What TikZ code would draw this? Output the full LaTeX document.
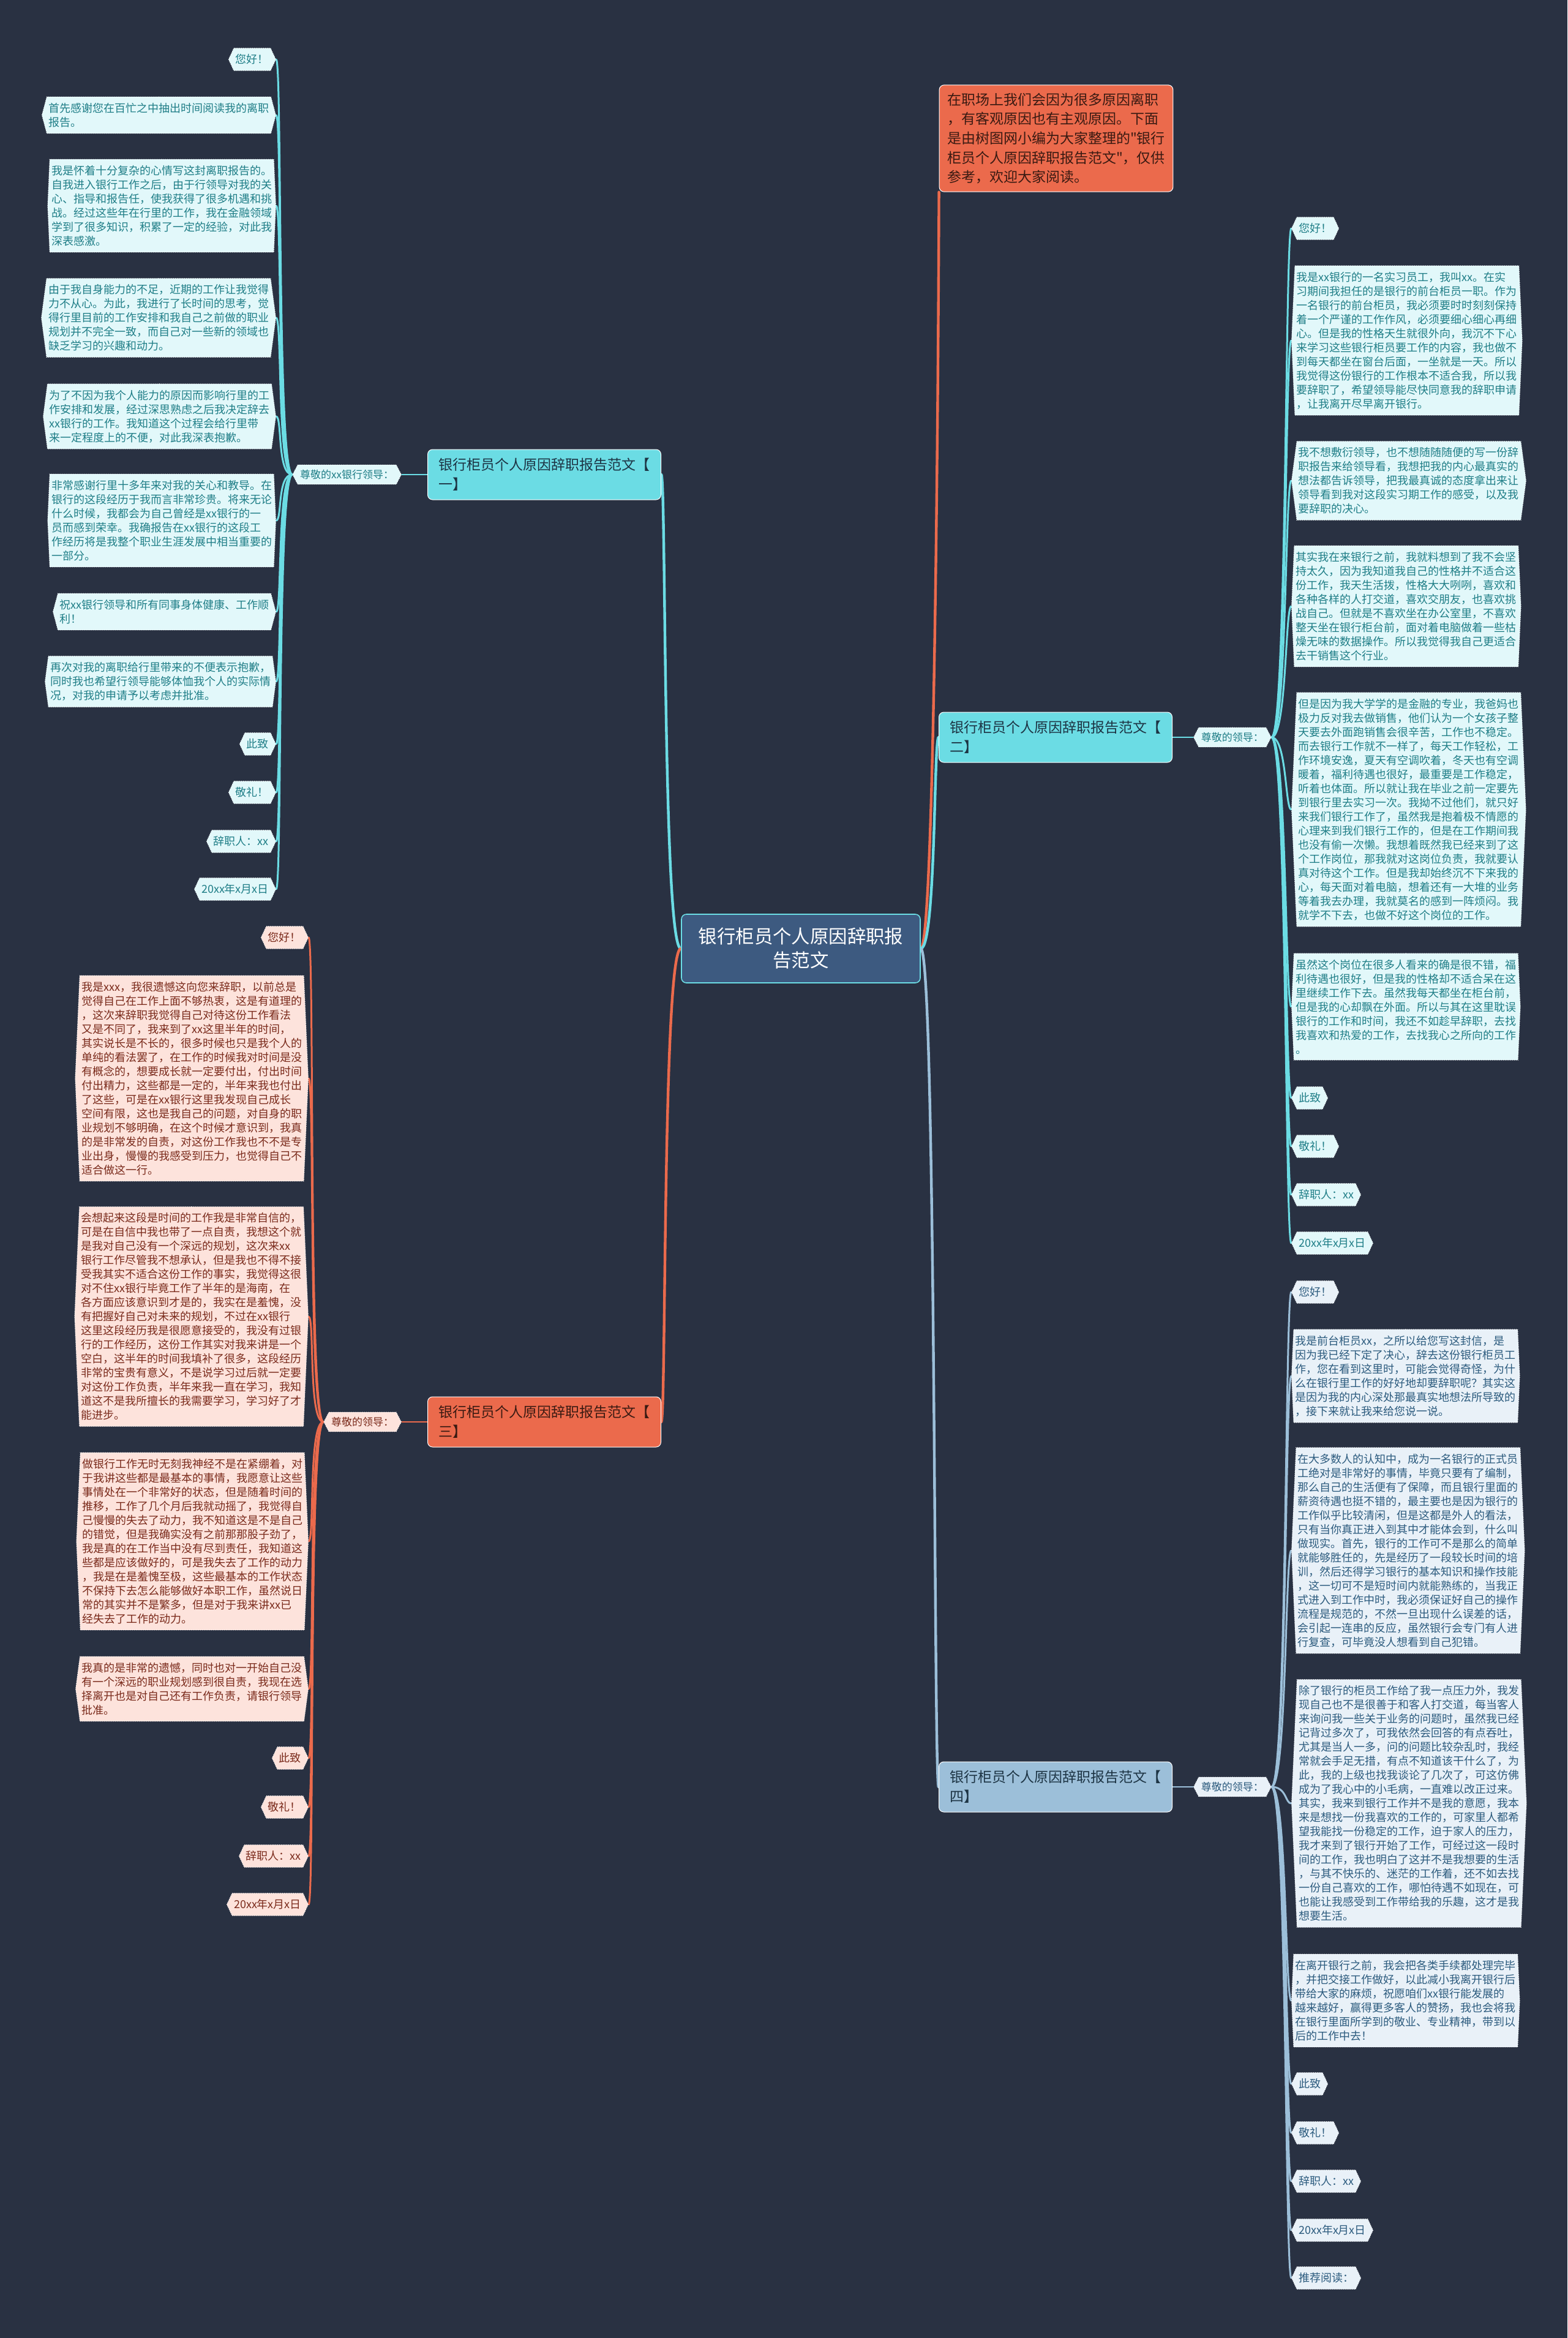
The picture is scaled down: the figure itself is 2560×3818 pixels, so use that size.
\documentclass[tikz,border=0pt]{standalone}
\usepackage{fontspec}
\setmainfont{Noto Sans CJK SC}[Ligatures=TeXOff]
\usetikzlibrary{positioning, shapes.symbols, backgrounds}

\definecolor{bgnavy}{HTML}{293142}
\definecolor{cyanmain}{HTML}{6BDCE4}
\definecolor{cyanfill}{HTML}{E2F8FA}
\definecolor{cyantext}{HTML}{1F7E87}
\definecolor{redmain}{HTML}{EB6A4C}
\definecolor{redfill}{HTML}{FDE3DC}
\definecolor{redtext}{HTML}{7A2A1B}
\definecolor{bluemain}{HTML}{9CBFD9}
\definecolor{bluefill}{HTML}{E9F1F8}
\definecolor{bluetext}{HTML}{2C5B7E}
\definecolor{rootblue}{HTML}{3D5A80}
\definecolor{darkbrown}{HTML}{3A1A12}
\definecolor{darknavy}{HTML}{1D3444}

\newcommand{\leaffont}{\fontsize{9pt}{11.5pt}\selectfont}
\newcommand{\hubfont}{\fontsize{8.5pt}{10pt}\selectfont}
\newcommand{\branchfont}{\fontsize{11.5pt}{15.8pt}\selectfont}
\newcommand{\rootfont}{\fontsize{15.2pt}{19.5pt}\selectfont}

\begin{document}
\begin{tikzpicture}[
    x=0.5pt, y=-0.5pt,
    leaf/.style={signal, signal to=east and west, signal pointer angle=175, draw=white, densely dotted, line width=0.5pt, font=\leaffont, align=left, inner xsep=1.5pt, inner ysep=5pt},
    tagnode/.style={signal pointer angle=130, inner xsep=1.5pt},
    twoline/.style={signal pointer angle=150},
    midline/.style={signal pointer angle=165},
    cleaf/.style={leaf, fill=cyanfill, text=cyantext},
    rleaf/.style={leaf, fill=redfill, text=redtext},
    bleaf/.style={leaf, fill=bluefill, text=bluetext},
    hub/.style={signal, signal to=east and west, signal pointer angle=125, draw=white, densely dotted, line width=0.5pt, font=\hubfont, inner xsep=2pt, inner ysep=4pt},
    branchbox/.style={rectangle, rounded corners=4pt, draw=white, line width=0.5pt, font=\branchfont, align=left, minimum width=190.5pt, minimum height=41pt, inner xsep=5pt},
    rootbox/.style={rectangle, rounded corners=4pt, draw=cyanmain, line width=0.8pt, fill=rootblue, text=white, font=\rootfont, align=center, minimum width=195pt, minimum height=56pt},
    introbox/.style={rectangle, rounded corners=4pt, draw=white, line width=0.5pt, fill=redmain, text=darkbrown, font=\branchfont, align=left, inner sep=6.5pt},
    link/.style={line cap=round},
    clink/.style={link, draw=cyanmain, line width=1.5pt},
    rlink/.style={link, draw=redmain, line width=1.5pt},
    blink/.style={link, draw=bluemain, line width=1.5pt},
    trunk/.style={link, line width=2.2pt}
]
\useasboundingbox (0,0) rectangle (2560,3818);
\begin{pgfonlayer}{background}
\fill[bgnavy] (0,0) rectangle (2560,3818);
\end{pgfonlayer}

\node[rootbox] (root) at (1308,1549) {银行柜员个人原因辞职报\\告范文};
\node[introbox] (intro) at (1725,226) {在职场上我们会因为很多原因离职\\，有客观原因也有主观原因。下面\\是由树图网小编为大家整理的"银行\\柜员个人原因辞职报告范文"，仅供\\参考，欢迎大家阅读。};

\node[branchbox, fill=cyanmain, text=darknavy] (b1) at (889,775) {银行柜员个人原因辞职报告范文【\\一】};
\node[branchbox, fill=cyanmain, text=darknavy] (b2) at (1724,1204) {银行柜员个人原因辞职报告范文【\\二】};
\node[branchbox, fill=redmain, text=darkbrown] (b3) at (889,2322) {银行柜员个人原因辞职报告范文【\\三】};
\node[branchbox, fill=bluemain, text=darknavy] (b4) at (1724,2918) {银行柜员个人原因辞职报告范文【\\四】};

\node[hub, fill=cyanfill, text=cyantext, left=21pt of b1] (h1) {尊敬的xx银行领导：};
\node[hub, fill=cyanfill, text=cyantext, right=17pt of b2] (h2) {尊敬的领导：};
\node[hub, fill=redfill, text=redtext, left=21pt of b3] (h3) {尊敬的领导：};
\node[hub, fill=bluefill, text=bluetext, right=17pt of b4] (h4) {尊敬的领导：};

\node[cleaf, tagnode, anchor=east] (one1) at (451,97) {您好！};
\node[cleaf, twoline, anchor=east] (one2) at (451,188) {首先感谢您在百忙之中抽出时间阅读我的离职\\报告。};
\node[cleaf, anchor=east] (one3) at (451,336) {我是怀着十分复杂的心情写这封离职报告的。\\自我进入银行工作之后，由于行领导对我的关\\心、指导和报告任，使我获得了很多机遇和挑\\战。经过这些年在行里的工作，我在金融领域\\学到了很多知识，积累了一定的经验，对此我\\深表感激。};
\node[cleaf, midline, anchor=east] (one4) at (451,519) {由于我自身能力的不足，近期的工作让我觉得\\力不从心。为此，我进行了长时间的思考，觉\\得行里目前的工作安排和我自己之前做的职业\\规划并不完全一致，而自己对一些新的领域也\\缺乏学习的兴趣和动力。};
\node[cleaf, midline, anchor=east] (one5) at (451,680) {为了不因为我个人能力的原因而影响行里的工\\作安排和发展，经过深思熟虑之后我决定辞去\\xx银行的工作。我知道这个过程会给行里带\\来一定程度上的不便，对此我深表抱歉。};
\node[cleaf, anchor=east] (one6) at (451,850) {非常感谢行里十多年来对我的关心和教导。在\\银行的这段经历于我而言非常珍贵。将来无论\\什么时候，我都会为自己曾经是xx银行的一\\员而感到荣幸。我确报告在xx银行的这段工\\作经历将是我整个职业生涯发展中相当重要的\\一部分。};
\node[cleaf, twoline, anchor=east] (one7) at (451,999) {祝xx银行领导和所有同事身体健康、工作顺\\利！};
\node[cleaf, midline, anchor=east] (one8) at (451,1113) {再次对我的离职给行里带来的不便表示抱歉，\\同时我也希望行领导能够体恤我个人的实际情\\况，对我的申请予以考虑并批准。};
\node[cleaf, tagnode, anchor=east] (one9) at (451,1215) {此致};
\node[cleaf, tagnode, anchor=east] (one10) at (451,1294) {敬礼！};
\node[cleaf, tagnode, anchor=east] (one11) at (451,1374) {辞职人：xx};
\node[cleaf, tagnode, anchor=east] (one12) at (451,1452) {20xx年x月x日};

\node[rleaf, tagnode, anchor=east] (three1) at (504,1531) {您好！};
\node[rleaf, anchor=east] (three2) at (504,1761) {我是xxx，我很遗憾这向您来辞职，以前总是\\觉得自己在工作上面不够热衷，这是有道理的\\，这次来辞职我觉得自己对待这份工作看法\\又是不同了，我来到了xx这里半年的时间，\\其实说长是不长的，很多时候也只是我个人的\\单纯的看法罢了，在工作的时候我对时间是没\\有概念的，想要成长就一定要付出，付出时间\\付出精力，这些都是一定的，半年来我也付出\\了这些，可是在xx银行这里我发现自己成长\\空间有限，这也是我自己的问题，对自身的职\\业规划不够明确，在这个时候才意识到，我真\\的是非常发的自责，对这份工作我也不不是专\\业出身，慢慢的我感受到压力，也觉得自己不\\适合做这一行。};
\node[rleaf, anchor=east] (three3) at (504,2150) {会想起来这段是时间的工作我是非常自信的，\\可是在自信中我也带了一点自责，我想这个就\\是我对自己没有一个深远的规划，这次来xx\\银行工作尽管我不想承认，但是我也不得不接\\受我其实不适合这份工作的事实，我觉得这很\\对不住xx银行毕竟工作了半年的是海南，在\\各方面应该意识到才是的，我实在是羞愧，没\\有把握好自己对未来的规划，不过在xx银行\\这里这段经历我是很愿意接受的，我没有过银\\行的工作经历，这份工作其实对我来讲是一个\\空白，这半年的时间我填补了很多，这段经历\\非常的宝贵有意义，不是说学习过后就一定要\\对这份工作负责，半年来我一直在学习，我知\\道这不是我所擅长的我需要学习，学习好了才\\能进步。};
\node[rleaf, anchor=east] (three4) at (504,2517) {做银行工作无时无刻我神经不是在紧绷着，对\\于我讲这些都是最基本的事情，我愿意让这些\\事情处在一个非常好的状态，但是随着时间的\\推移，工作了几个月后我就动摇了，我觉得自\\己慢慢的失去了动力，我不知道这是不是自己\\的错觉，但是我确实没有之前那那股子劲了，\\我是真的在工作当中没有尽到责任，我知道这\\些都是应该做好的，可是我失去了工作的动力\\，我是在是羞愧至极，这些最基本的工作状态\\不保持下去怎么能够做好本职工作，虽然说日\\常的其实并不是繁多，但是对于我来讲xx已\\经失去了工作的动力。};
\node[rleaf, midline, anchor=east] (three5) at (504,2758) {我真的是非常的遗憾，同时也对一开始自己没\\有一个深远的职业规划感到很自责，我现在选\\择离开也是对自己还有工作负责，请银行领导\\批准。};
\node[rleaf, tagnode, anchor=east] (three6) at (504,2871) {此致};
\node[rleaf, tagnode, anchor=east] (three7) at (504,2951) {敬礼！};
\node[rleaf, tagnode, anchor=east] (three8) at (504,3031) {辞职人：xx};
\node[rleaf, tagnode, anchor=east] (three9) at (504,3110) {20xx年x月x日};

\node[cleaf, tagnode, anchor=west] (two1) at (2109,373) {您好！};
\node[cleaf, anchor=west] (two2) at (2109,556) {我是xx银行的一名实习员工，我叫xx。在实\\习期间我担任的是银行的前台柜员一职。作为\\一名银行的前台柜员，我必须要时时刻刻保持\\着一个严谨的工作作风，必须要细心细心再细\\心。但是我的性格天生就很外向，我沉不下心\\来学习这些银行柜员要工作的内容，我也做不\\到每天都坐在窗台后面，一坐就是一天。所以\\我觉得这份银行的工作根本不适合我，所以我\\要辞职了，希望领导能尽快同意我的辞职申请\\，让我离开尽早离开银行。};
\node[cleaf, midline, anchor=west] (two3) at (2109,785) {我不想敷衍领导，也不想随随随便的写一份辞\\职报告来给领导看，我想把我的内心最真实的\\想法都告诉领导，把我最真诚的态度拿出来让\\领导看到我对这段实习期工作的感受，以及我\\要辞职的决心。};
\node[cleaf, anchor=west] (two4) at (2109,990) {其实我在来银行之前，我就料想到了我不会坚\\持太久，因为我知道我自己的性格并不适合这\\份工作，我天生活拨，性格大大咧咧，喜欢和\\各种各样的人打交道，喜欢交朋友，也喜欢挑\\战自己。但就是不喜欢坐在办公室里，不喜欢\\整天坐在银行柜台前，面对着电脑做着一些枯\\燥无味的数据操作。所以我觉得我自己更适合\\去干销售这个行业。};
\node[cleaf, anchor=west] (two5) at (2109,1322) {但是因为我大学学的是金融的专业，我爸妈也\\极力反对我去做销售，他们认为一个女孩子整\\天要去外面跑销售会很辛苦，工作也不稳定。\\而去银行工作就不一样了，每天工作轻松，工\\作环境安逸，夏天有空调吹着，冬天也有空调\\暖着，福利待遇也很好，最重要是工作稳定，\\听着也体面。所以就让我在毕业之前一定要先\\到银行里去实习一次。我拗不过他们，就只好\\来我们银行工作了，虽然我是抱着极不情愿的\\心理来到我们银行工作的，但是在工作期间我\\也没有偷一次懒。我想着既然我已经来到了这\\个工作岗位，那我就对这岗位负责，我就要认\\真对待这个工作。但是我却始终沉不下来我的\\心，每天面对着电脑，想着还有一大堆的业务\\等着我去办理，我就莫名的感到一阵烦闷。我\\就学不下去，也做不好这个岗位的工作。};
\node[cleaf, anchor=west] (two6) at (2109,1644) {虽然这个岗位在很多人看来的确是很不错，福\\利待遇也很好，但是我的性格却不适合呆在这\\里继续工作下去。虽然我每天都坐在柜台前，\\但是我的心却飘在外面。所以与其在这里耽误\\银行的工作和时间，我还不如趁早辞职，去找\\我喜欢和热爱的工作，去找我心之所向的工作\\。};
\node[cleaf, tagnode, anchor=west] (two7) at (2109,1793) {此致};
\node[cleaf, tagnode, anchor=west] (two8) at (2109,1872) {敬礼！};
\node[cleaf, tagnode, anchor=west] (two9) at (2109,1951) {辞职人：xx};
\node[cleaf, tagnode, anchor=west] (two10) at (2109,2030) {20xx年x月x日};

\node[bleaf, tagnode, anchor=west] (four1) at (2109,2110) {您好！};
\node[bleaf, anchor=west] (four2) at (2109,2247) {我是前台柜员xx，之所以给您写这封信，是\\因为我已经下定了决心，辞去这份银行柜员工\\作，您在看到这里时，可能会觉得奇怪，为什\\么在银行里工作的好好地却要辞职呢？其实这\\是因为我的内心深处那最真实地想法所导致的\\，接下来就让我来给您说一说。};
\node[bleaf, anchor=west] (four3) at (2109,2532) {在大多数人的认知中，成为一名银行的正式员\\工绝对是非常好的事情，毕竟只要有了编制，\\那么自己的生活便有了保障，而且银行里面的\\薪资待遇也挺不错的，最主要也是因为银行的\\工作似乎比较清闲，但是这都是外人的看法，\\只有当你真正进入到其中才能体会到，什么叫\\做现实。首先，银行的工作可不是那么的简单\\就能够胜任的，先是经历了一段较长时间的培\\训，然后还得学习银行的基本知识和操作技能\\，这一切可不是短时间内就能熟练的，当我正\\式进入到工作中时，我必须保证好自己的操作\\流程是规范的，不然一旦出现什么误差的话，\\会引起一连串的反应，虽然银行会专门有人进\\行复查，可毕竟没人想看到自己犯错。};
\node[bleaf, anchor=west] (four4) at (2109,2945) {除了银行的柜员工作给了我一点压力外，我发\\现自己也不是很善于和客人打交道，每当客人\\来询问我一些关于业务的问题时，虽然我已经\\记背过多次了，可我依然会回答的有点吞吐，\\尤其是当人一多，问的问题比较杂乱时，我经\\常就会手足无措，有点不知道该干什么了，为\\此，我的上级也找我谈论了几次了，可这仿佛\\成为了我心中的小毛病，一直难以改正过来。\\其实，我来到银行工作并不是我的意愿，我本\\来是想找一份我喜欢的工作的，可家里人都希\\望我能找一份稳定的工作，迫于家人的压力，\\我才来到了银行开始了工作，可经过这一段时\\间的工作，我也明白了这并不是我想要的生活\\，与其不快乐的、迷茫的工作着，还不如去找\\一份自己喜欢的工作，哪怕待遇不如现在，可\\也能让我感受到工作带给我的乐趣，这才是我\\想要生活。};
\node[bleaf, anchor=west] (four5) at (2109,3267) {在离开银行之前，我会把各类手续都处理完毕\\，并把交接工作做好，以此减小我离开银行后\\带给大家的麻烦，祝愿咱们xx银行能发展的\\越来越好，赢得更多客人的赞扬，我也会将我\\在银行里面所学到的敬业、专业精神，带到以\\后的工作中去！};
\node[bleaf, tagnode, anchor=west] (four6) at (2109,3403) {此致};
\node[bleaf, tagnode, anchor=west] (four7) at (2109,3483) {敬礼！};
\node[bleaf, tagnode, anchor=west] (four8) at (2109,3562) {辞职人：xx};
\node[bleaf, tagnode, anchor=west] (four9) at (2109,3642) {20xx年x月x日};
\node[bleaf, tagnode, anchor=west] (four10) at (2109,3720) {推荐阅读：};

\begin{pgfonlayer}{background}
\draw[trunk, draw=cyanmain] (root.west) .. controls +(-30,0) and +(8,0) .. (b1.east);
\draw[trunk, draw=redmain] (root.west) .. controls +(-30,0) and +(8,0) .. (b3.east);
\draw[trunk, draw=redmain] (root.east) .. controls +(25,0) and +(0,60) .. (intro.south west);
\draw[trunk, draw=cyanmain] (root.east) .. controls +(25,0) and +(-8,0) .. (b2.west);
\draw[trunk, draw=bluemain] (root.east) .. controls +(25,0) and +(-8,0) .. (b4.west);

\draw[clink, line width=0.8pt] (b1) -- (h1);
\draw[clink, line width=0.8pt] (b2) -- (h2);
\draw[rlink, line width=0.8pt] (b3) -- (h3);
\draw[blink, line width=0.8pt] (b4) -- (h4);

\foreach \i in {1,...,12}
  \draw[clink] (h1.west) .. controls +(-25,0) and +(10,0) .. (one\i.east);
\foreach \i in {1,...,9}
  \draw[rlink] (h3.west) .. controls +(-25,0) and +(10,0) .. (three\i.east);
\foreach \i in {1,...,10}
  \draw[clink] (h2.east) .. controls +(25,0) and +(-10,0) .. (two\i.west);
\foreach \i in {1,...,10}
  \draw[blink] (h4.east) .. controls +(25,0) and +(-10,0) .. (four\i.west);
\end{pgfonlayer}
\end{tikzpicture}
\end{document}
